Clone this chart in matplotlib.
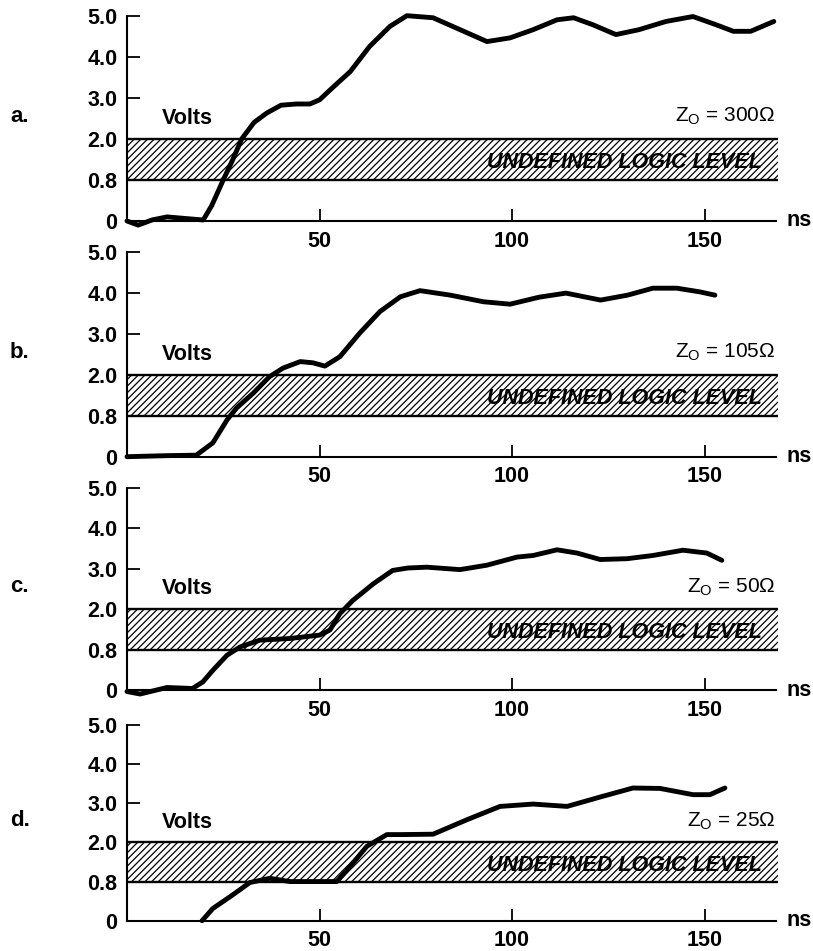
import numpy as np
import matplotlib
matplotlib.use("Agg")
import matplotlib.pyplot as plt
from matplotlib.transforms import blended_transform_factory

# ───── DATA (time in ns, signal in volts) ─────────────────────
panel_tags = ["a.", "b.", "c.", "d."]
impedances = ["300", "105", "50", "25"]

t_a = [0, 2.9, 6.5, 10.4, 15, 19.8, 22, 25, 27.5, 29.8, 33, 36.3, 40, 44, 47.5, 50,
       54, 58, 63, 68.3, 72.7, 79.5, 86.5, 93.5, 99.5, 105.5, 111.7, 116, 121, 127,
       133, 140, 147, 153, 157.5, 162, 168]
v_a = [0, -0.08, 0.02, 0.08, 0.05, 0.02, 0.3, 0.8, 1.4, 2.0, 2.4, 2.63, 2.82, 2.85,
       2.85, 2.95, 3.3, 3.64, 4.25, 4.74, 5.0, 4.95, 4.66, 4.37, 4.46, 4.66, 4.9,
       4.95, 4.78, 4.54, 4.66, 4.86, 4.98, 4.78, 4.62, 4.62, 4.86]

t_b = [0, 10, 18, 22.3, 26, 28.5, 32.8, 37, 40.5, 45, 48.3, 51.4, 55.3, 60.5, 65.7,
       71, 76.1, 84, 92.5, 99.5, 107, 114, 123, 130, 136.6, 142.8, 148.8, 152.7]
v_b = [0, 0.02, 0.03, 0.27, 0.72, 1.03, 1.46, 1.94, 2.16, 2.32, 2.29, 2.21, 2.44,
       3.02, 3.54, 3.9, 4.05, 3.94, 3.78, 3.72, 3.89, 3.99, 3.82, 3.94, 4.11, 4.11,
       4.02, 3.94]

t_c = [0, 3.4, 10.4, 17, 19.7, 22.3, 26, 29.4, 34.5, 42.3, 50, 52.7, 55.3, 58.7,
       64, 69, 73, 77.9, 86.5, 93.5, 101.3, 105.5, 111.7, 116.9, 122.9, 129.9,
       136.6, 144.4, 150.6, 154.5]
v_c = [-0.03, -0.08, 0.05, 0.03, 0.16, 0.39, 0.69, 0.88, 1.08, 1.13, 1.23, 1.38,
       1.87, 2.22, 2.63, 2.96, 3.02, 3.04, 2.98, 3.09, 3.29, 3.33, 3.47, 3.39, 3.23,
       3.25, 3.33, 3.46, 3.39, 3.21]

t_d = [19.5, 22.3, 27.5, 31.9, 37.1, 42.3, 54.5, 58.7, 62.3, 67.5, 71, 79.5, 88.3,
       96.9, 105.5, 114.3, 122.9, 131.4, 138.4, 147, 151.4, 155.3]
v_d = [0, 0.25, 0.53, 0.78, 0.9, 0.8, 0.8, 1.37, 1.88, 2.2, 2.2, 2.21, 2.58, 2.92,
       2.98, 2.92, 3.16, 3.39, 3.38, 3.22, 3.22, 3.39]

curves = [(t_a, v_a), (t_b, v_b), (t_c, v_c), (t_d, v_d)]

y_ticks = [0, 0.8, 2.0, 3.0, 4.0, 5.0]
y_tick_labels = ["0", "0.8", "2.0", "3.0", "4.0", "5.0"]
x_ticks = [50, 100, 150]
band_low, band_high = 0.8, 2.0
# ───────────────────────────────────────────────────────────────


# the volt axis is stretched so every labelled level sits evenly spaced
def fwd(v):
    v = np.asarray(v, dtype=float)
    return np.where(v < 0.8, v / 0.8, np.where(v < 2.0, 1 + (v - 0.8) / 1.2, v))


def inv(p):
    p = np.asarray(p, dtype=float)
    return np.where(p < 1, p * 0.8, np.where(p < 2, 0.8 + (p - 1) * 1.2, p))


plt.rcParams["font.family"] = ["Liberation Sans", "DejaVu Sans"]
plt.rcParams["mathtext.fontset"] = "custom"
plt.rcParams["mathtext.rm"] = "Liberation Sans"
plt.rcParams["hatch.linewidth"] = 0.9

fig = plt.figure(figsize=(8.13, 9.51), dpi=100)

# axes boxes in pixels: (bottom, top) measured from the top of the figure
W, H = 813, 951
boxes = [(221, 15.7), (456.7, 251.7), (690, 488), (920.7, 725)]
left_px = 127
x_max = 168.5
width_px = x_max * 3.85

for tag, zo, (t, v), (bot, top) in zip(panel_tags, impedances, curves, boxes):
    ax = fig.add_axes([left_px / W, 1 - bot / H, width_px / W, (bot - top) / H])
    ax.set_yscale("function", functions=(fwd, inv))
    ax.set_xlim(0, x_max)
    ax.set_ylim(0, 5)

    for side in ("top", "right"):
        ax.spines[side].set_visible(False)
    for side in ("left", "bottom"):
        ax.spines[side].set_linewidth(1.5)

    ax.set_yticks(y_ticks, y_tick_labels)
    ax.set_xticks(x_ticks, [str(x) for x in x_ticks])
    ax.minorticks_off()
    ax.tick_params(direction="in", length=9, width=1.3, labelsize=15.5, pad=7)
    for lab in ax.get_xticklabels() + ax.get_yticklabels():
        lab.set_fontweight("bold")
    # no tick marks on 0, 0.8 and 2.0 (band edges stand in for them)
    for tk in ax.yaxis.get_major_ticks()[:3]:
        tk.tick1line.set_visible(False)

    # undefined logic band
    ax.axhspan(band_low, band_high, xmin=0, xmax=169 / x_max, facecolor="white",
               edgecolor="black", linewidth=0, hatch="/////", clip_on=False, zorder=1)
    ax.hlines([band_low, band_high], 0, 169, colors="black", linewidth=1.7,
              clip_on=False, zorder=2)
    ax.text(165, 1.3, "UNDEFINED LOGIC LEVEL", ha="right", va="center",
            fontsize=15.5, fontweight="bold", style="italic", zorder=3)

    ax.plot(t, v, color="black", linewidth=3.5, solid_capstyle="round",
            solid_joinstyle="round", clip_on=False, zorder=4)

    ax.text(9, 2.5, "Volts", ha="left", va="center", fontsize=15.5, fontweight="bold")
    ax.text(x_max, 2.55, r"Z$_{\mathrm{O}}$ = " + zo + "Ω", ha="right", va="center",
            fontsize=15)
    ax.text(1.017, 0, "ns", transform=ax.get_yaxis_transform(), ha="left",
            va="center", fontsize=15.5, fontweight="bold")

    tr = blended_transform_factory(fig.transFigure, ax.transData)
    ax.text(10 / W, 2.55, tag, transform=tr, ha="left", va="center",
            fontsize=16, fontweight="bold")

fig.savefig("out.png", dpi=100)
plt.close(fig)
